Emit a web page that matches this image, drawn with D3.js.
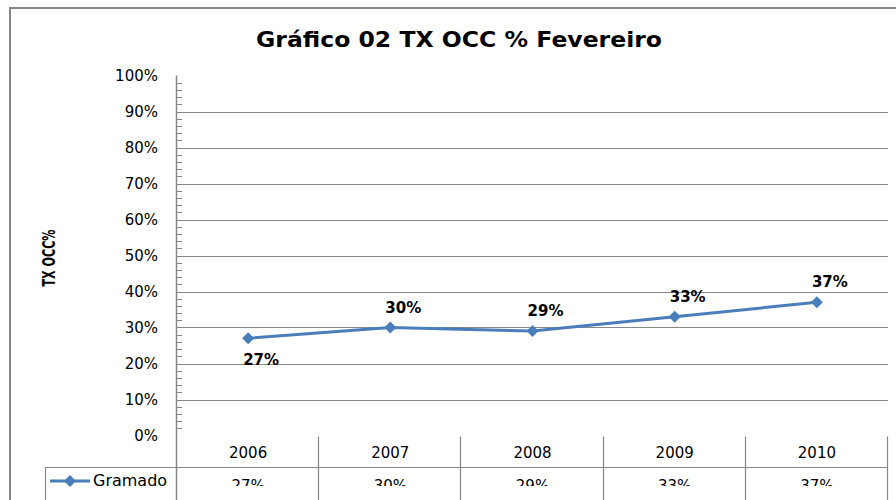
<!doctype html>
<html>
<head>
    <meta charset="utf-8"/>
    <style>
        html, body {
            width: 100%;
            height: 100%;
            margin: 0px;
            background: #fff;
        }
        svg {
            position: absolute;
            top: 0px;
            left: 0px;
        }
        text {
            font-family: 'DejaVu Sans', sans-serif;
            fill: #000;
        }
    </style>
    <script src="https://d3js.org/d3.v7.min.js"></script>
</head>
<body>

<svg width="896" height="500"></svg>

<script>

    // --- DATA --- //
    var years = ["2006", "2007", "2008", "2009", "2010"];
    var seriesName = "Gramado";
    var occupancy = [0.27, 0.30, 0.29, 0.33, 0.37];
    var yTickValues = [0, 0.1, 0.2, 0.3, 0.4, 0.5, 0.6, 0.7, 0.8, 0.9, 1.0];
    var titleText = "Gráfico 02 TX OCC % Fevereiro";
    var yAxisTitle = "TX OCC%";

    var LINE_COLOUR = "#4A7EBB";
    var GRID_COLOUR = "#878787";

    var svg = d3.select("svg");
    var pct = d3.format(".0%");

    var plot = {left: 177, right: 888, top: 75.5, bottom: 435.5};
    var tableBottom = 500;
    var rowLine = 467;
    var legendLeft = 45;

    var x = d3.scaleBand().domain(years).range([plot.left, plot.right]);
    var y = d3.scaleLinear().domain([0, 1]).range([plot.bottom, plot.top]);

    // outer chart border
    svg.append("rect")
        .attr("x", 10).attr("y", 8)
        .attr("width", 900).attr("height", 520)
        .attr("fill", "none")
        .attr("stroke", GRID_COLOUR)
        .attr("stroke-width", 2);

    // title
    svg.append("text")
        .attr("x", 459).attr("y", 47)
        .attr("text-anchor", "middle")
        .attr("font-size", 22)
        .attr("font-weight", "bold")
        .attr("textLength", 406)
        .attr("lengthAdjust", "spacingAndGlyphs")
        .text(titleText);

    // y axis title
    svg.append("text")
        .attr("transform", "translate(55,258) rotate(-90)")
        .attr("text-anchor", "middle")
        .attr("font-size", 17)
        .attr("font-weight", "bold")
        .attr("textLength", 57)
        .attr("lengthAdjust", "spacingAndGlyphs")
        .text(yAxisTitle);

    // --- GRID --- //
    svg.append("g")
        .selectAll("line")
        .data(yTickValues.filter(function(v) { return v > 0 && v < 1; }))
        .enter().append("line")
        .attr("x1", plot.left).attr("x2", plot.right)
        .attr("y1", function(d) { return Math.round(y(d)) + 0.5; })
        .attr("y2", function(d) { return Math.round(y(d)) + 0.5; })
        .attr("stroke", GRID_COLOUR)
        .attr("stroke-width", 1.2);

    // minor ticks every 2%
    svg.append("g")
        .selectAll("line")
        .data(d3.range(1, 50).map(function(i) { return i * 0.02; }))
        .enter().append("line")
        .attr("x1", plot.left).attr("x2", plot.left + 5)
        .attr("y1", function(d) { return Math.round(y(d)) + 0.5; })
        .attr("y2", function(d) { return Math.round(y(d)) + 0.5; })
        .attr("stroke", GRID_COLOUR)
        .attr("stroke-width", 1);

    // y tick labels
    svg.append("g")
        .selectAll("text")
        .data(yTickValues)
        .enter().append("text")
        .attr("x", 158)
        .attr("y", function(d) { return y(d) + 5; })
        .attr("text-anchor", "end")
        .attr("font-size", 15)
        .text(function(d) { return pct(d); });

    // y axis line (runs down through the data table)
    svg.append("line")
        .attr("x1", plot.left - 0.5).attr("x2", plot.left - 0.5)
        .attr("y1", plot.top).attr("y2", tableBottom)
        .attr("stroke", GRID_COLOUR)
        .attr("stroke-width", 1.5);

    // --- DATA TABLE --- //
    var table = svg.append("g");

    table.selectAll("line.sep")
        .data(years)
        .enter().append("line")
        .attr("class", "sep")
        .attr("x1", function(d) { return Math.round(x(d) + x.bandwidth()) - 0.5; })
        .attr("x2", function(d) { return Math.round(x(d) + x.bandwidth()) - 0.5; })
        .attr("y1", plot.bottom + 1).attr("y2", tableBottom)
        .attr("stroke", GRID_COLOUR)
        .attr("stroke-width", 1.2);

    table.append("line")
        .attr("x1", legendLeft).attr("x2", plot.right)
        .attr("y1", rowLine + 0.5).attr("y2", rowLine + 0.5)
        .attr("stroke", GRID_COLOUR)
        .attr("stroke-width", 1.2);

    table.append("line")
        .attr("x1", legendLeft + 0.5).attr("x2", legendLeft + 0.5)
        .attr("y1", rowLine).attr("y2", tableBottom)
        .attr("stroke", GRID_COLOUR)
        .attr("stroke-width", 1.2);

    table.selectAll("text.year")
        .data(years)
        .enter().append("text")
        .attr("class", "year")
        .attr("x", function(d) { return x(d) + x.bandwidth() / 2; })
        .attr("y", 458)
        .attr("text-anchor", "middle")
        .attr("font-size", 15)
        .text(function(d) { return d; });

    // value row, cut off by the bottom of the picture
    svg.append("clipPath").attr("id", "valueClip")
        .append("rect")
        .attr("x", 0).attr("y", rowLine).attr("width", 896).attr("height", 19);

    table.append("g")
        .attr("clip-path", "url(#valueClip)")
        .selectAll("text")
        .data(occupancy)
        .enter().append("text")
        .attr("x", function(d, i) { return x(years[i]) + x.bandwidth() / 2; })
        .attr("y", 491)
        .attr("text-anchor", "middle")
        .attr("font-size", 15)
        .text(function(d) { return pct(d); });

    // legend key
    var diamond = "M0,-6L6,0L0,6L-6,0Z";
    table.append("line")
        .attr("x1", 50).attr("x2", 90)
        .attr("y1", 481).attr("y2", 481)
        .attr("stroke", LINE_COLOUR)
        .attr("stroke-width", 3);
    table.append("path")
        .attr("d", diamond)
        .attr("transform", "translate(70,481)")
        .attr("fill", LINE_COLOUR);
    table.append("text")
        .attr("x", 93).attr("y", 486)
        .attr("font-size", 16)
        .text(seriesName);

    // --- SERIES --- //
    var points = occupancy.map(function(v, i) {
        return {year: years[i], value: v, x: x(years[i]) + x.bandwidth() / 2, y: y(v)};
    });

    svg.append("path")
        .datum(points)
        .attr("d", d3.line().x(function(d) { return d.x; }).y(function(d) { return d.y; }))
        .attr("fill", "none")
        .attr("stroke", LINE_COLOUR)
        .attr("stroke-width", 3)
        .attr("stroke-linejoin", "round");

    svg.append("g")
        .selectAll("path")
        .data(points)
        .enter().append("path")
        .attr("d", diamond)
        .attr("transform", function(d) { return "translate(" + d.x + "," + d.y + ")"; })
        .attr("fill", LINE_COLOUR);

    // data labels: first one sits below the marker, the rest above
    svg.append("g")
        .selectAll("text")
        .data(points)
        .enter().append("text")
        .attr("x", function(d) { return d.x + 13; })
        .attr("y", function(d, i) { return i === 0 ? d.y + 27 : d.y - 15; })
        .attr("text-anchor", "middle")
        .attr("font-size", 15)
        .attr("font-weight", "bold")
        .text(function(d) { return pct(d.value); });

</script>

</body>
</html>
